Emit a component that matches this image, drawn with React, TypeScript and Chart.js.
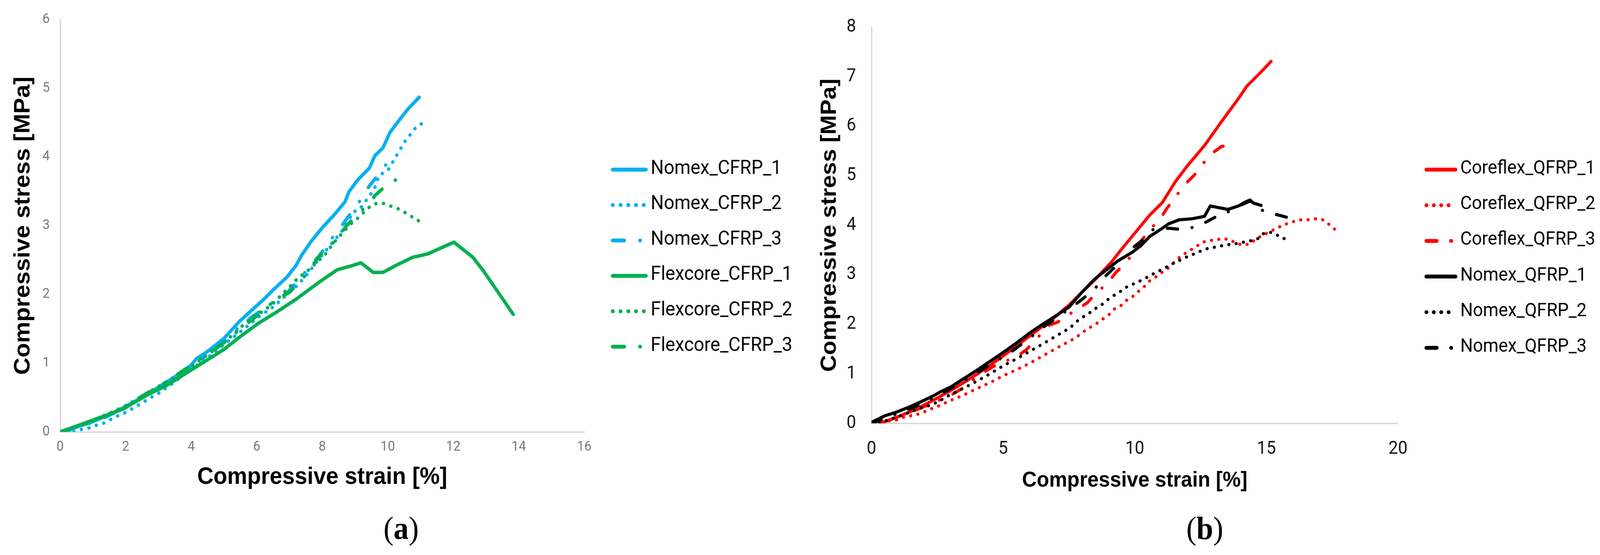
import { useEffect, useRef } from 'react';
import Chart from 'chart.js/auto';

type Pt = [number, number];
type Kind = 'solid' | 'dot' | 'dashDot';

// ---------- panel (a): CFRP skins ----------
const labelsA = ['Nomex_CFRP_1', 'Nomex_CFRP_2', 'Nomex_CFRP_3', 'Flexcore_CFRP_1', 'Flexcore_CFRP_2', 'Flexcore_CFRP_3'];

const nomexCfrp1: Pt[] = [
  [0, 0], [0.5, 0.07], [1, 0.15], [1.5, 0.25], [2, 0.37], [2.5, 0.5], [3, 0.65], [3.5, 0.8], [4, 0.97],
  [4.15, 1.06], [4.5, 1.17], [5, 1.36], [5.48, 1.61], [5.94, 1.81], [6.22, 1.93], [6.51, 2.07], [6.92, 2.25],
  [7.2, 2.42], [7.37, 2.57], [7.66, 2.77], [8.0, 2.97], [8.35, 3.15], [8.7, 3.35], [8.81, 3.49], [9.09, 3.67],
  [9.44, 3.84], [9.61, 4.02], [9.85, 4.13], [10.07, 4.36], [10.42, 4.58], [10.64, 4.71], [10.96, 4.87],
];
const nomexCfrp2: Pt[] = [
  [0.42, 0], [0.68, 0.04], [0.9, 0.06], [1.13, 0.1], [1.35, 0.13], [1.58, 0.19], [1.79, 0.24], [1.99, 0.28],
  [2.42, 0.4], [2.84, 0.52], [3.04, 0.57], [3.5, 0.73], [4, 0.91], [4.5, 1.08], [5, 1.27], [5.59, 1.49],
  [6.05, 1.67], [6.48, 1.81], [7.17, 2.1], [7.49, 2.26], [7.94, 2.54], [8.24, 2.71], [8.6, 2.92], [8.83, 3.09],
  [8.92, 3.19], [9.16, 3.25], [9.59, 3.53], [9.73, 3.73], [10.01, 3.81], [10.39, 4.12], [10.53, 4.23],
  [10.68, 4.32], [10.82, 4.41], [11.0, 4.48], [11.25, 4.49],
];
const nomexCfrp3: Pt[] = [
  [0.1, 0], [0.5, 0.06], [1, 0.14], [1.5, 0.24], [2, 0.36], [2.5, 0.5], [3, 0.64], [3.5, 0.79], [4, 0.95],
  [4.5, 1.12], [5, 1.3], [5.5, 1.55], [5.76, 1.64], [6.63, 1.93], [6.94, 2.03], [7.6, 2.39], [7.83, 2.51],
  [8.38, 2.87], [8.61, 3.01], [9.18, 3.38], [9.38, 3.54], [9.98, 3.91], [10.24, 4.06],
];
const flexcoreCfrp1: Pt[] = [
  [0, 0], [0.42, 0.07], [1.17, 0.2], [1.91, 0.33], [2.67, 0.54], [3.23, 0.67], [4, 0.9], [4.5, 1.05], [5, 1.2],
  [5.48, 1.38], [6.05, 1.58], [6.63, 1.75], [7.2, 1.93], [7.94, 2.19], [8.46, 2.36], [8.92, 2.42], [9.18, 2.46],
  [9.56, 2.32], [9.85, 2.32], [10.24, 2.42], [10.76, 2.54], [11.22, 2.59], [12.02, 2.76], [12.6, 2.54],
  [12.94, 2.33], [13.83, 1.71],
];
const flexcoreCfrp2: Pt[] = [
  [0, 0], [0.5, 0.08], [1, 0.17], [1.5, 0.27], [2, 0.38], [2.5, 0.52], [3, 0.66], [3.5, 0.8], [4, 0.95],
  [4.5, 1.12], [5, 1.3], [5.4, 1.47], [5.85, 1.67], [6.05, 1.71], [6.46, 1.85], [6.98, 2.1], [7.31, 2.26],
  [7.52, 2.33], [8.07, 2.57], [8.35, 2.75], [8.83, 3.01], [9.04, 3.09], [9.21, 3.17], [9.38, 3.25], [9.6, 3.32],
  [9.84, 3.33], [10.06, 3.29], [10.3, 3.25], [10.5, 3.2], [10.7, 3.14], [10.93, 3.08], [10.99, 2.97],
];
const flexcoreCfrp3: Pt[] = [
  [0, 0], [0.5, 0.07], [1, 0.15], [1.5, 0.26], [2, 0.38], [2.5, 0.52], [3, 0.66], [3.5, 0.81], [4, 0.97],
  [4.5, 1.13], [5, 1.3], [5.54, 1.51], [5.88, 1.64], [6.6, 1.93], [7.0, 2.03], [7.63, 2.35], [7.83, 2.52],
  [8.5, 2.83], [8.72, 2.99], [9.1, 3.17], [9.44, 3.33], [9.61, 3.44], [10.01, 3.61], [10.42, 3.71], [10.64, 3.72],
];

// ---------- panel (b): QFRP skins ----------
const labelsB = ['Coreflex_QFRP_1', 'Coreflex_QFRP_2', 'Coreflex_QFRP_3', 'Nomex_QFRP_1', 'Nomex_QFRP_2', 'Nomex_QFRP_3'];

const coreflexQfrp1: Pt[] = [
  [0.3, 0], [0.7, 0.07], [1, 0.13], [1.5, 0.24], [2, 0.37], [2.5, 0.51], [3, 0.66], [3.5, 0.82], [4, 0.99],
  [4.5, 1.17], [5, 1.36], [5.5, 1.56], [6, 1.76], [6.5, 1.96], [7, 2.16], [7.51, 2.39], [7.98, 2.64],
  [8.47, 2.89], [9.12, 3.26], [9.52, 3.53], [10.08, 3.89], [10.56, 4.2], [11.05, 4.46], [11.53, 4.87],
  [12.0, 5.2], [12.65, 5.61], [13.29, 6.09], [13.94, 6.56], [14.26, 6.81], [14.75, 7.07], [15.18, 7.31],
];
const coreflexQfrp2: Pt[] = [
  [0.4, 0], [0.69, 0.05], [0.97, 0.07], [1.2, 0.12], [1.48, 0.15], [1.74, 0.18], [2.0, 0.23], [2.25, 0.29],
  [2.51, 0.34], [3, 0.46], [3.5, 0.57], [4, 0.7], [4.5, 0.82], [5, 0.96], [5.5, 1.08], [6, 1.21], [6.5, 1.36],
  [7, 1.51], [7.7, 1.71], [7.91, 1.79], [8.11, 1.87], [8.35, 1.95], [8.59, 2.03], [8.8, 2.11], [9.03, 2.2],
  [9.23, 2.31], [9.48, 2.38], [9.68, 2.48], [9.92, 2.56], [10.13, 2.66], [10.36, 2.76], [10.52, 2.86],
  [10.76, 2.94], [11.01, 3.04], [11.22, 3.11], [11.44, 3.22], [11.62, 3.32], [11.85, 3.41], [12.09, 3.49],
  [12.31, 3.56], [12.54, 3.65], [12.8, 3.69], [13.05, 3.7], [13.33, 3.73], [13.6, 3.71], [13.85, 3.64],
  [14.09, 3.6], [14.36, 3.62], [14.58, 3.71], [14.82, 3.79], [15.07, 3.85], [15.31, 3.92], [15.55, 3.98],
  [15.78, 4.03], [16.06, 4.08], [16.33, 4.11], [16.6, 4.11], [16.86, 4.13], [17.11, 4.12], [17.35, 4.03],
  [17.56, 3.94], [17.77, 3.81],
];
const coreflexQfrp3: Pt[] = [
  [0.3, 0], [1, 0.12], [1.5, 0.22], [2, 0.34], [2.5, 0.45], [2.9, 0.53], [3.5, 0.72], [4.1, 0.98], [4.8, 1.2],
  [5.5, 1.34], [5.87, 1.48], [6.3, 1.72], [6.69, 1.97], [7.06, 2.04], [7.45, 2.18], [7.83, 2.31], [8.19, 2.43],
  [8.57, 2.65], [8.99, 2.84], [9.27, 3.04], [9.68, 3.25], [10.28, 3.71], [10.59, 3.92], [10.97, 4.13],
  [11.22, 4.34], [11.57, 4.59], [11.93, 4.84], [12.24, 5.0], [12.58, 5.24], [12.96, 5.46], [13.29, 5.59],
  [13.82, 5.64],
];
const nomexQfrp1: Pt[] = [
  [0, 0.02], [0.5, 0.15], [0.97, 0.23], [1.44, 0.33], [1.9, 0.44], [2.37, 0.56], [2.6, 0.63], [3, 0.73],
  [3.5, 0.9], [4, 1.07], [4.5, 1.25], [5, 1.43], [5.5, 1.62], [6, 1.82], [6.5, 2.0], [7, 2.17], [7.51, 2.35],
  [7.98, 2.64], [8.47, 2.91], [8.88, 3.08], [9.36, 3.28], [9.92, 3.46], [10.24, 3.59], [10.56, 3.77],
  [11.05, 3.94], [11.29, 4.03], [11.69, 4.11], [12.17, 4.13], [12.65, 4.18], [12.87, 4.39], [13.14, 4.36],
  [13.54, 4.32], [13.94, 4.39], [14.17, 4.46], [14.38, 4.51], [14.5, 4.45], [14.8, 4.4],
];
const nomexQfrp2: Pt[] = [
  [0.3, 0], [0.6, 0.06], [0.92, 0.12], [1.2, 0.17], [1.72, 0.28], [2.25, 0.37], [2.51, 0.43], [3, 0.58],
  [3.5, 0.71], [4, 0.85], [4.5, 1.0], [5, 1.16], [5.5, 1.3], [6, 1.45], [6.5, 1.6], [7, 1.76], [7.55, 1.93],
  [7.74, 2.03], [7.97, 2.13], [8.22, 2.2], [8.43, 2.3], [8.67, 2.36], [8.89, 2.46], [9.12, 2.56], [9.36, 2.62],
  [9.58, 2.72], [9.83, 2.79], [10.08, 2.84], [10.32, 2.91], [10.56, 2.97], [10.8, 3.05], [11.05, 3.11],
  [11.29, 3.18], [11.53, 3.25], [11.78, 3.31], [12.05, 3.38], [12.31, 3.43], [12.55, 3.49], [12.82, 3.54],
  [13.08, 3.56], [13.35, 3.59], [13.61, 3.61], [13.88, 3.63], [14.15, 3.66], [14.43, 3.69], [14.68, 3.73],
  [14.89, 3.83], [15.14, 3.86], [15.41, 3.8], [15.66, 3.73], [15.91, 3.77],
];
const nomexQfrp3: Pt[] = [
  [0, 0], [0.5, 0.1], [1, 0.2], [1.5, 0.3], [2, 0.42], [2.5, 0.56], [3, 0.7], [3.5, 0.85], [4, 1.02],
  [4.5, 1.18], [5, 1.34], [5.3, 1.44], [6, 1.72], [6.6, 1.97], [7, 2.12], [7.74, 2.4], [8.11, 2.55],
  [8.52, 2.74], [8.84, 2.95], [9.2, 3.13], [9.96, 3.56], [10.32, 3.71], [10.69, 3.91], [11.29, 3.94],
  [11.65, 3.92], [12.16, 3.95], [12.65, 4.05], [13.05, 4.16], [13.54, 4.27], [14.0, 4.4], [14.38, 4.49],
  [14.85, 4.3], [15.35, 4.22], [15.78, 4.16],
];

// axis ranges
const xMaxA = 16, xStepA = 2, yMaxA = 6;
const xMaxB = 20, xStepB = 5, yMaxB = 8;

const BLUE = '#00B0F0';
const GREEN = '#00B050';
const RED = '#FF0000';
const BLACK = '#000000';

const kinds: Kind[] = ['solid', 'dot', 'dashDot', 'solid', 'dot', 'dashDot'];

// the figure is laid out at this width and squeezed to the window if it is narrower
const FIG_W = 4340;
const FIG_H = 1420;

// draws the legend to the right of the plot area, Excel style
const sideLegend = {
  id: 'sideLegend',
  afterDraw(chart: any, _args: any, opts: any) {
    const { ctx, chartArea } = chart;
    const x0 = chartArea.right + opts.offset;
    chart.data.datasets.forEach((ds: any, i: number) => {
      const y = opts.top + i * opts.gap;
      ctx.save();
      ctx.strokeStyle = ds.borderColor;
      ctx.lineWidth = opts.lineWidth;
      ctx.lineCap = 'round';
      ctx.setLineDash(ds.borderDash || []);
      ctx.beginPath();
      ctx.moveTo(x0 + 5, y);
      ctx.lineTo(x0 + opts.sample - 5, y);
      ctx.stroke();
      ctx.setLineDash([]);
      ctx.fillStyle = '#000';
      ctx.font = opts.font;
      ctx.textBaseline = 'middle';
      ctx.fillText(ds.label, x0 + opts.sample + opts.textGap, y - 2);
      ctx.restore();
    });
  },
};

interface PanelCfg {
  pageLeft: number;
  width: number;
  height: number;
  labels: string[];
  series: Pt[][];
  colors: string[];
  lineWidth: number;
  dot: number[];
  dashDot: number[];
  xMax: number;
  xStep: number;
  yMax: number;
  padTop: number;
  padRight: number;
  yAxisWidth: number;
  xAxisHeight: number;
  tickFont: any;
  tickColor: string;
  yTickPad: number;
  xTickPad: number;
  yTitleSize: number;
  yTitlePad: number;
  xTitleSize: number;
  xTitlePad: number;
  legend: any;
}

const panelA: PanelCfg = {
  pageLeft: 0,
  width: 2160,
  height: 1300,
  labels: labelsA,
  series: [nomexCfrp1, nomexCfrp2, nomexCfrp3, flexcoreCfrp1, flexcoreCfrp2, flexcoreCfrp3],
  colors: [BLUE, BLUE, BLUE, GREEN, GREEN, GREEN],
  lineWidth: 9,
  dot: [0.5, 20.5],
  dashDot: [31, 43, 0.5, 43],
  xMax: xMaxA,
  xStep: xStepA,
  yMax: yMaxA,
  padTop: 50,
  padRight: 575,
  yAxisWidth: 163,
  xAxisHeight: 195,
  tickFont: { family: 'Roboto, "Liberation Sans", sans-serif', size: 35 },
  tickColor: '#767676',
  yTickPad: 28,
  xTickPad: 18,
  yTitleSize: 61,
  yTitlePad: 27,
  xTitleSize: 61,
  xTitlePad: 42,
  legend: { offset: 72, top: 434, gap: 90.6, sample: 100, textGap: 8, lineWidth: 10, font: '50px Roboto, "Liberation Sans", sans-serif' },
};

const panelB: PanelCfg = {
  pageLeft: 2160,
  width: 2180,
  height: 1300,
  labels: labelsB,
  series: [coreflexQfrp1, coreflexQfrp2, coreflexQfrp3, nomexQfrp1, nomexQfrp2, nomexQfrp3],
  colors: [RED, RED, RED, BLACK, BLACK, BLACK],
  lineWidth: 8,
  dot: [0.5, 19.5],
  dashDot: [28, 39, 0.5, 39],
  xMax: xMaxB,
  xStep: xStepB,
  yMax: yMaxB,
  padTop: 52,
  padRight: 548,
  yAxisWidth: 204,
  xAxisHeight: 217,
  tickFont: { family: '"Liberation Sans Narrow", Roboto, sans-serif', size: 46 },
  tickColor: '#111111',
  yTickPad: 42,
  xTickPad: 39,
  yTitleSize: 60,
  yTitlePad: 54,
  xTitleSize: 55,
  xTitlePad: 37,
  legend: { offset: 72, top: 434, gap: 91.2, sample: 89, textGap: 8, lineWidth: 10, font: '48px Roboto, "Liberation Sans", sans-serif' },
};

function buildConfig(p: PanelCfg): any {
  const dashFor = (k: Kind) => (k === 'dot' ? p.dot : k === 'dashDot' ? p.dashDot : []);
  const titleFont = (size: number) => ({ family: '"Liberation Sans", Arial, sans-serif', size, weight: 'bold' as const });
  const axisBorder = { display: true, color: '#d4d4d4', width: 3 };
  return {
    type: 'line',
    data: {
      datasets: p.series.map((pts, i) => ({
        label: p.labels[i],
        data: pts.map(([x, y]) => ({ x, y })),
        borderColor: p.colors[i],
        backgroundColor: p.colors[i],
        borderWidth: p.lineWidth,
        borderDash: dashFor(kinds[i]),
        borderCapStyle: 'round',
        borderJoinStyle: 'round',
        pointRadius: 0,
        pointHoverRadius: 0,
        fill: false,
        tension: 0,
        order: p.series.length - i,
      })),
    },
    options: {
      animation: false,
      responsive: false,
      events: [],
      layout: { padding: { left: 0, top: p.padTop, right: p.padRight, bottom: 0 } },
      plugins: {
        legend: { display: false },
        tooltip: { enabled: false },
        sideLegend: p.legend,
      },
      scales: {
        x: {
          type: 'linear',
          min: 0,
          max: p.xMax,
          grid: { display: false, drawTicks: false },
          border: axisBorder,
          ticks: { stepSize: p.xStep, autoSkip: false, maxRotation: 0, padding: p.xTickPad, font: p.tickFont, color: p.tickColor },
          title: {
            display: true,
            text: 'Compressive strain [%]',
            color: '#000',
            font: titleFont(p.xTitleSize),
            padding: { top: 0, bottom: p.xTitlePad },
          },
          afterFit: (scale: any) => {
            scale.height = p.xAxisHeight;
          },
        },
        y: {
          type: 'linear',
          min: 0,
          max: p.yMax,
          grid: { display: false, drawTicks: false },
          border: axisBorder,
          ticks: { stepSize: 1, autoSkip: false, padding: p.yTickPad, font: p.tickFont, color: p.tickColor },
          title: {
            display: true,
            text: 'Compressive stress [MPa]',
            color: '#000',
            font: titleFont(p.yTitleSize),
            padding: { top: p.yTitlePad, bottom: 0 },
          },
          afterFit: (scale: any) => {
            scale.width = p.yAxisWidth;
          },
        },
      },
    },
    plugins: [sideLegend],
  };
}

const StressStrainPanel = ({ cfg }: { cfg: PanelCfg }) => {
  const canvasRef = useRef<HTMLCanvasElement>(null);
  const chartInstance = useRef<Chart | null>(null);

  useEffect(() => {
    if (!canvasRef.current) return;
    if (chartInstance.current) chartInstance.current.destroy();
    chartInstance.current = new Chart(canvasRef.current, buildConfig(cfg));
    return () => {
      if (chartInstance.current) {
        chartInstance.current.destroy();
        chartInstance.current = null;
      }
    };
  }, [cfg]);

  return (
    <canvas
      ref={canvasRef}
      width={cfg.width}
      height={cfg.height}
      style={{ position: 'absolute', left: cfg.pageLeft, top: 0, width: cfg.width, height: cfg.height }}
    />
  );
};

const captionStyle = (centerX: number): React.CSSProperties => ({
  position: 'absolute',
  left: centerX - 100,
  top: 1311,
  width: 200,
  textAlign: 'center',
  fontFamily: '"Liberation Serif", "DejaVu Serif", serif',
  fontSize: 82,
  lineHeight: '82px',
  color: '#000',
});

const App = () => {
  // the browser window can be narrower than the figure; squeeze horizontally to fit
  const kx = Math.min(1, (typeof window !== 'undefined' ? window.innerWidth : FIG_W) / FIG_W);
  return (
    <div style={{ position: 'fixed', left: 0, top: 0, right: 0, bottom: 0, background: '#fff', overflow: 'hidden' }}>
      <div
        style={{
          position: 'absolute',
          left: 0,
          top: 0,
          width: FIG_W,
          height: FIG_H,
          transform: `scaleX(${kx})`,
          transformOrigin: '0 0',
        }}
      >
        <StressStrainPanel cfg={panelA} />
        <StressStrainPanel cfg={panelB} />
        <div style={captionStyle(1088)}>
          (<b>a</b>)
        </div>
        <div style={captionStyle(3268)}>
          (<b>b</b>)
        </div>
      </div>
    </div>
  );
};

export default App;
